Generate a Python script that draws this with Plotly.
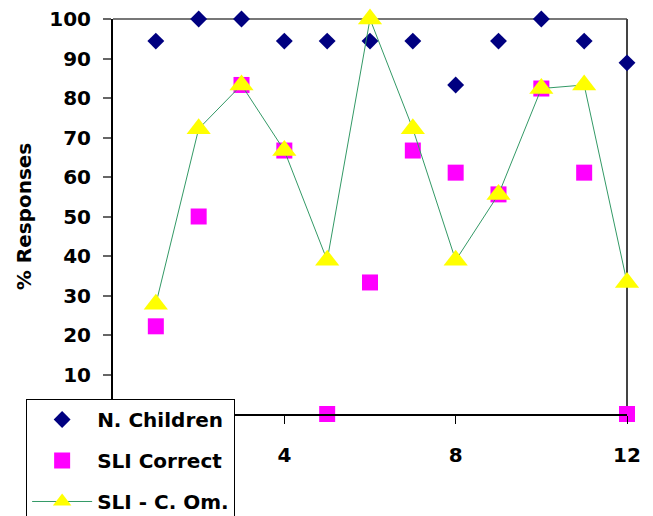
import plotly.graph_objects as go

# Item numbers 1-12
items = list(range(1, 13))

# Percentage of responses per item
n_children = [94.4, 100, 100, 94.4, 94.4, 94.4, 94.4, 83.3, 94.4, 100, 94.4, 88.9]
sli_correct = [22.2, 50.0, 83.3, 66.7, 0, 33.3, 66.7, 61.1, 55.6, 82.4, 61.1, 0]
sli_c_om = [27.8, 72.2, 83.3, 66.7, 38.9, 100, 72.2, 38.9, 55.6, 82.4, 83.3, 33.3]

series_names = ["N. Children", "SLI Correct", "SLI - C. Om."]
x_ticks = [4, 8, 12]
y_ticks = [10, 20, 30, 40, 50, 60, 70, 80, 90, 100]

FONT = "DejaVu Sans, Arial, sans-serif"
BOLD = dict(family=FONT, size=20, color="black", weight="bold")

fig = go.Figure()
fig.add_trace(go.Scatter(
    x=items, y=n_children, name=series_names[0], mode="markers",
    marker=dict(symbol="diamond", size=13, color="#000080"),
    legendgroup="a", cliponaxis=False,
))
fig.add_trace(go.Scatter(
    x=items, y=sli_correct, name=series_names[1], mode="markers",
    marker=dict(symbol="square", size=16, color="#FF00FF"),
    legendgroup="b", cliponaxis=False,
))
fig.add_trace(go.Scatter(
    x=items, y=sli_c_om, name=series_names[2], mode="lines+markers",
    line=dict(color="#339966", width=1),
    marker=dict(symbol="triangle-up", size=21, color="#FFFF00"),
    legendgroup="c", cliponaxis=False,
))

# Grey frame on the top and right of the plotting area
fig.add_shape(type="line", xref="paper", yref="paper", x0=0, x1=1, y0=1, y1=1,
              line=dict(color="#777777", width=2), layer="below")
fig.add_shape(type="line", xref="paper", yref="paper", x0=1, x1=1, y0=0, y1=1,
              line=dict(color="#444444", width=2), layer="below")

fig.update_layout(
    width=653, height=516,
    margin=dict(l=113, r=26, t=19, b=102, autoexpand=False),
    paper_bgcolor="white", plot_bgcolor="white",
    font=dict(family=FONT, size=20, color="black"),
    showlegend=True,
    legend=dict(
        x=-0.169, xanchor="left", y=0.038, yanchor="top",
        bgcolor="white", bordercolor="black", borderwidth=1,
        font=BOLD,
        tracegroupgap=12, itemwidth=60,
    ),
    xaxis=dict(
        range=[0, 12], tickvals=x_ticks, showgrid=False, zeroline=False,
        showline=True, linecolor="black", linewidth=2,
        ticks="outside", ticklen=8, tickcolor="black", tickwidth=1,
        ticklabelstandoff=14,
        tickfont=BOLD,
    ),
    yaxis=dict(
        range=[0, 100], tickvals=y_ticks, showgrid=False, zeroline=False,
        showline=True, linecolor="black", linewidth=2,
        ticks="outside", ticklen=8, tickcolor="#666666", tickwidth=2,
        ticklabelstandoff=8,
        tickfont=BOLD,
        title=dict(text="% Responses", standoff=12, font=BOLD),
    ),
)

fig.write_html("out.html")
